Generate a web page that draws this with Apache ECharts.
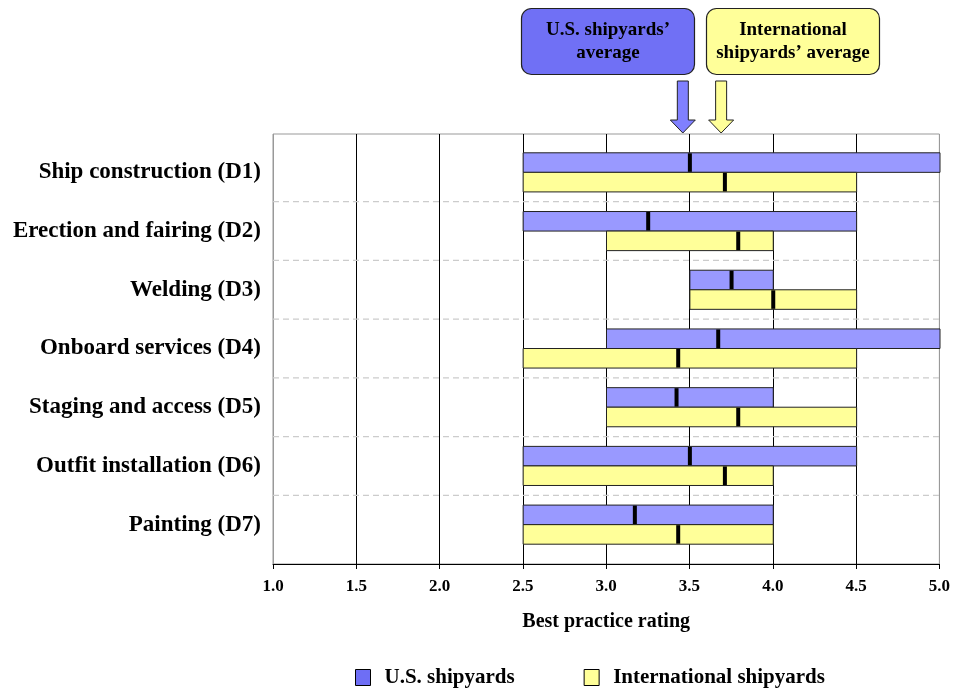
<!DOCTYPE html>
<html><head><meta charset="utf-8">
<script src="https://cdn.jsdelivr.net/npm/echarts@6/dist/echarts.min.js"></script>
<style>html,body{margin:0;padding:0;background:#fff}#c{width:953px;height:689px}</style>
</head><body><div id="c"></div>
<script>
const categories = ['Ship construction (D1)','Erection and fairing (D2)','Welding (D3)','Onboard services (D4)','Staging and access (D5)','Outfit installation (D6)','Painting (D7)'];
const usLow   = [2.5, 2.5, 3.5, 3.0, 3.0, 2.5, 2.5];
const usHigh  = [5.0, 4.5, 4.0, 5.0, 4.0, 4.5, 4.0];
const usAvg   = [3.50, 3.25, 3.75, 3.67, 3.42, 3.50, 3.17];
const intlLow  = [2.5, 3.0, 3.5, 2.5, 3.0, 2.5, 2.5];
const intlHigh = [4.5, 4.0, 4.5, 4.5, 4.5, 4.0, 4.0];
const intlAvg  = [3.71, 3.79, 4.00, 3.43, 3.79, 3.71, 3.43];
const usOverallAvg = 3.46;
const intlOverallAvg = 3.69;
const xMin = 1.0, xMax = 5.0, xInterval = 0.5;
const seriesNames = ['U.S. shipyards', 'International shipyards'];
const boxTexts = ['U.S. shipyards\u2019\naverage', 'International\nshipyards\u2019 average'];
const axisTitle = 'Best practice rating';

const FONT = '"Liberation Serif","Times New Roman",serif';
const BLUE = '#9999FF', YELLOW = '#FFFF99';

function makeBarRender(top, fill) {
  return function (params, api) {
    const i = api.value(0);
    const a = api.coord([api.value(1), i]);
    const b = api.coord([api.value(2), i]);
    const m = api.coord([api.value(3), i]);
    const band = api.size([0, 1])[1];
    const h = band * 0.333;
    const y0 = top ? a[1] - h : a[1];
    return { type: 'group', children: [
      { type: 'rect', shape: { x: a[0], y: y0, width: b[0] - a[0], height: h },
        style: { fill: fill, stroke: '#222', lineWidth: 1 } },
      { type: 'rect', shape: { x: m[0] - 2, y: y0 + 0.5, width: 4, height: h - 1 },
        style: { fill: '#000' } }
    ]};
  };
}

const usData = categories.map((c, i) => [i, usLow[i], usHigh[i], usAvg[i]]);
const intlData = categories.map((c, i) => [i, intlLow[i], intlHigh[i], intlAvg[i]]);
const sepData = categories.slice(0, -1).map((c, i) => [i]);

const chart = echarts.init(document.getElementById('c'), null, { renderer: 'canvas' });
chart.setOption({
  animation: false,
  backgroundColor: '#fff',
  textStyle: { fontFamily: FONT },
  grid: [
    { left: 273, right: 13, top: 143, bottom: 135 },
    { left: 273, right: 13, top: 134, bottom: 125, show: true, borderColor: '#999', borderWidth: 1 }
  ],
  xAxis: [
    { gridIndex: 0, type: 'value', min: xMin, max: xMax, interval: xInterval, show: false },
    { gridIndex: 1, type: 'value', min: xMin, max: xMax, interval: xInterval,
      axisLine: { show: true, lineStyle: { color: '#000', width: 1 } },
      axisTick: { show: true, length: 5, lineStyle: { color: '#000' } },
      axisLabel: { margin: 14, fontFamily: FONT, fontWeight: 'bold', fontSize: 17, color: '#000',
        formatter: v => v.toFixed(1) },
      splitLine: { show: true, lineStyle: { color: ['#999','#000','#000','#000','#000','#000','#000','#000','#999'], width: 1 } },
      name: axisTitle, nameLocation: 'middle', nameGap: 48,
      nameTextStyle: { fontFamily: FONT, fontWeight: 'bold', fontSize: 20, color: '#000' }
    }
  ],
  yAxis: [
    { gridIndex: 0, type: 'category', data: categories, inverse: true,
      axisLine: { show: false }, axisTick: { show: false }, splitLine: { show: false },
      axisLabel: { margin: 12, fontFamily: FONT, fontWeight: 'bold', fontSize: 23, color: '#000' } },
    { gridIndex: 1, type: 'value', min: 0, max: 1, show: false, splitLine: { show: false } }
  ],
  legend: {
    data: [
      { name: seriesNames[0], icon: 'rect', itemStyle: { color: '#6E6EF5', borderColor: '#000', borderWidth: 1 } },
      { name: seriesNames[1], icon: 'rect', itemStyle: { color: YELLOW, borderColor: '#000', borderWidth: 1 } }
    ],
    left: 355, top: 667, padding: 0, itemWidth: 15, itemHeight: 16, itemGap: 69,
    textStyle: { fontFamily: FONT, fontWeight: 'bold', fontSize: 21, color: '#000', padding: [0, 0, 0, 9] }
  },
  series: [
    { type: 'custom', name: 'sep', xAxisIndex: 0, yAxisIndex: 0, data: sepData, silent: true, z: 1,
      encode: { y: 0 },
      renderItem: function (params, api) {
        const i = api.value(0);
        const band = api.size([0, 1])[1];
        const p1 = api.coord([xMin, i]);
        const p2 = api.coord([xMax, i]);
        const y = p1[1] + band / 2;
        return { type: 'line', shape: { x1: p1[0], y1: y, x2: p2[0], y2: y },
          style: { stroke: '#cccccc', lineWidth: 1.2, lineDash: [6, 4] } };
      } },
    { type: 'custom', name: seriesNames[0], xAxisIndex: 0, yAxisIndex: 0, data: usData,
      itemStyle: { color: '#6E6EF5' }, encode: { x: [1, 2, 3], y: 0 }, renderItem: makeBarRender(true, BLUE) },
    { type: 'custom', name: seriesNames[1], xAxisIndex: 0, yAxisIndex: 0, data: intlData,
      itemStyle: { color: YELLOW }, encode: { x: [1, 2, 3], y: 0 }, renderItem: makeBarRender(false, YELLOW) }
  ]
});

function arrow(xc, fill) {
  const bw = 5.5, hw = 12.5, yTop = 81, yHead = 120, yTip = 133;
  return { type: 'polygon', z: 100,
    shape: { points: [[xc - bw, yTop], [xc + bw, yTop], [xc + bw, yHead], [xc + hw, yHead], [xc, yTip],
                      [xc - hw, yHead], [xc - bw, yHead]] },
    style: { fill: fill, stroke: '#222', lineWidth: 1 } };
}
const xUs = chart.convertToPixel({ xAxisIndex: 1 }, usOverallAvg);
const xIntl = chart.convertToPixel({ xAxisIndex: 1 }, intlOverallAvg);
chart.setOption({
  graphic: [
    { type: 'rect', shape: { x: 521.5, y: 8.5, width: 173, height: 66, r: 10 }, z: 100,
      style: { fill: '#7070F5', stroke: '#222', lineWidth: 1.2 } },
    { type: 'text', x: 608, y: 41.5, z: 101,
      style: { text: boxTexts[0], font: 'bold 19px ' + FONT, fill: '#000', align: 'center', verticalAlign: 'middle', lineHeight: 23 } },
    { type: 'rect', shape: { x: 706.5, y: 8.5, width: 173, height: 66, r: 10 }, z: 100,
      style: { fill: YELLOW, stroke: '#222', lineWidth: 1.2 } },
    { type: 'text', x: 793, y: 41.5, z: 101,
      style: { text: boxTexts[1], font: 'bold 19px ' + FONT, fill: '#000', align: 'center', verticalAlign: 'middle', lineHeight: 23 } },
    arrow(xUs, '#8080FF'),
    arrow(xIntl, YELLOW)
  ]
});
</script></body></html>
